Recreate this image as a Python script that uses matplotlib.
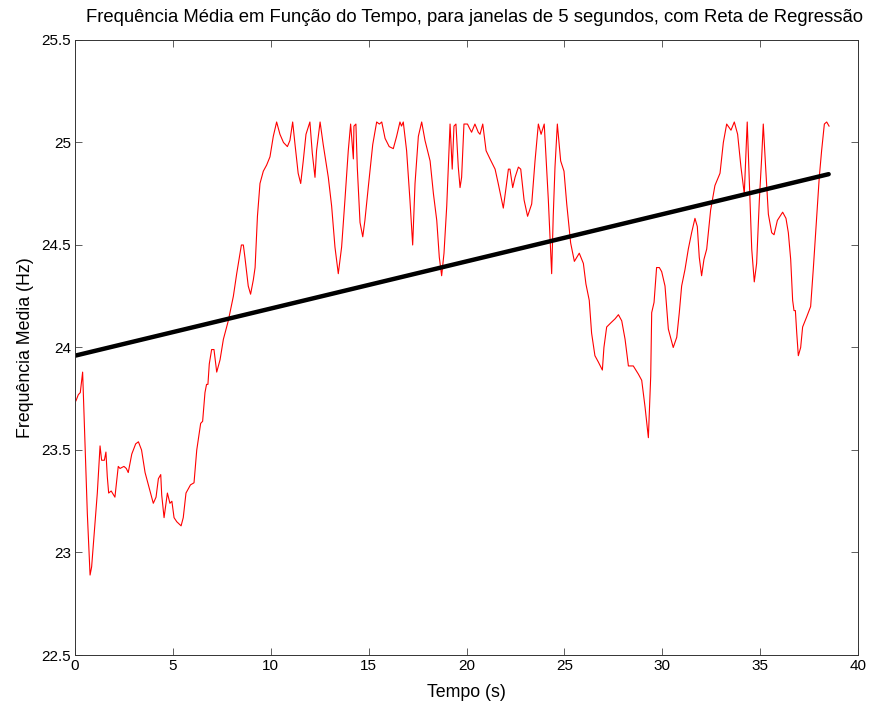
import numpy as np
import matplotlib
matplotlib.use("Agg")
import matplotlib.pyplot as plt
from matplotlib.ticker import FormatStrFormatter, MultipleLocator

plt.rcParams['font.family'] = ['Liberation Sans', 'DejaVu Sans']

# tempo (s) e frequencia media (Hz)
tempo = [0.05, 0.17, 0.27, 0.39, 0.46, 0.56, 0.63, 0.77, 0.85, 1.02, 1.14, 1.28, 1.36, 1.50,
         1.58, 1.65, 1.72, 1.85, 2.04, 2.21, 2.30, 2.50, 2.62, 2.72, 2.90, 3.10, 3.24, 3.40,
         3.58, 3.83, 4.00, 4.14, 4.26, 4.38, 4.43, 4.55, 4.72, 4.85, 4.95, 5.06, 5.20, 5.42,
         5.53, 5.67, 5.90, 6.08, 6.22, 6.42, 6.52, 6.64, 6.72, 6.79, 6.86, 6.98, 7.10, 7.24,
         7.41, 7.58, 7.83, 8.09, 8.26, 8.50, 8.60, 8.68, 8.85, 8.97, 9.11, 9.20, 9.32, 9.45,
         9.62, 9.79, 9.96, 10.13, 10.30, 10.47, 10.65, 10.85, 10.98, 11.12, 11.24, 11.40,
         11.53, 11.66, 11.80, 12.00, 12.12, 12.26, 12.34, 12.52, 12.68, 12.94, 13.11, 13.28,
         13.45, 13.62, 13.79, 13.96, 14.08, 14.22, 14.25, 14.35, 14.42, 14.56, 14.70, 14.81,
         14.98, 15.21, 15.41, 15.55, 15.67, 15.84, 16.05, 16.26, 16.43, 16.60, 16.68, 16.77,
         16.94, 17.11, 17.25, 17.37, 17.54, 17.71, 17.88, 18.14, 18.31, 18.48, 18.61, 18.73,
         18.85, 18.99, 19.16, 19.27, 19.36, 19.46, 19.58, 19.67, 19.75, 19.87, 20.05, 20.15,
         20.26, 20.43, 20.60, 20.69, 20.83, 21.00, 21.20, 21.46, 21.62, 21.88, 22.02, 22.14,
         22.22, 22.36, 22.48, 22.65, 22.77, 22.94, 23.12, 23.33, 23.50, 23.67, 23.81, 23.97,
         24.18, 24.35, 24.43, 24.52, 24.64, 24.81, 24.98, 25.12, 25.32, 25.51, 25.76, 25.97,
         26.10, 26.27, 26.39, 26.56, 26.73, 26.94, 27.02, 27.16, 27.37, 27.59, 27.76, 27.93,
         28.10, 28.27, 28.52, 28.78, 28.95, 29.12, 29.29, 29.41, 29.46, 29.58, 29.71, 29.85,
         29.97, 30.14, 30.31, 30.56, 30.74, 30.87, 30.99, 31.16, 31.33, 31.50, 31.67, 31.79,
         31.89, 32.01, 32.13, 32.27, 32.47, 32.69, 32.95, 33.12, 33.29, 33.51, 33.68, 33.85,
         34.02, 34.19, 34.26, 34.34, 34.45, 34.57, 34.70, 34.82, 34.96, 35.08, 35.16, 35.28,
         35.42, 35.59, 35.71, 35.88, 36.15, 36.32, 36.44, 36.56, 36.66, 36.73, 36.80, 36.87,
         36.95, 37.07, 37.17, 37.38, 37.58, 37.72, 37.89, 38.02, 38.14, 38.28, 38.40, 38.52]
freq = [23.74, 23.77, 23.78, 23.88, 23.68, 23.40, 23.19, 22.89, 22.93, 23.14, 23.29, 23.52, 23.45, 23.45,
        23.49, 23.37, 23.29, 23.30, 23.27, 23.42, 23.41, 23.42, 23.41, 23.39, 23.48, 23.53, 23.54, 23.50,
        23.39, 23.30, 23.24, 23.27, 23.36, 23.38, 23.28, 23.17, 23.29, 23.24, 23.25, 23.17, 23.15, 23.13,
        23.17, 23.29, 23.33, 23.34, 23.50, 23.63, 23.64, 23.78, 23.82, 23.82, 23.92, 23.99, 23.99, 23.88,
        23.94, 24.04, 24.13, 24.25, 24.36, 24.50, 24.50, 24.44, 24.30, 24.26, 24.33, 24.39, 24.64, 24.80,
        24.86, 24.89, 24.93, 25.03, 25.10, 25.04, 25.00, 24.98, 25.01, 25.10, 24.99, 24.85,
        24.80, 24.91, 25.04, 25.10, 24.95, 24.83, 24.96, 25.10, 24.99, 24.83, 24.69, 24.49,
        24.36, 24.49, 24.72, 24.96, 25.09, 24.92, 25.08, 25.09, 24.88, 24.61, 24.54, 24.62,
        24.78, 24.99, 25.10, 25.09, 25.10, 25.02, 24.98, 24.97, 25.03, 25.10, 25.08, 25.10,
        24.96, 24.72, 24.50, 24.80, 25.03, 25.10, 25.01, 24.91, 24.75, 24.62, 24.44, 24.35,
        24.46, 24.69, 25.09, 24.87, 25.08, 25.09, 24.88, 24.78, 24.83, 25.09, 25.09, 25.07,
        25.05, 25.09, 25.05, 25.04, 25.09, 24.96, 24.92, 24.87, 24.80, 24.68, 24.78, 24.87,
        24.87, 24.78, 24.83, 24.88, 24.87, 24.72, 24.64, 24.70, 24.91, 25.09, 25.04, 25.09,
        24.72, 24.36, 24.64, 24.88, 25.09, 24.91, 24.86, 24.70, 24.51, 24.42, 24.46, 24.41,
        24.31, 24.23, 24.07, 23.96, 23.93, 23.89, 24.00, 24.10, 24.12, 24.14, 24.16, 24.13,
        24.04, 23.91, 23.91, 23.87, 23.84, 23.71, 23.56, 23.86, 24.17, 24.22, 24.39, 24.39,
        24.37, 24.30, 24.09, 24.00, 24.05, 24.17, 24.30, 24.38, 24.48, 24.56, 24.63, 24.59,
        24.44, 24.35, 24.43, 24.48, 24.67, 24.79, 24.85, 25.00, 25.09, 25.06, 25.10, 25.04,
        24.88, 24.75, 24.91, 25.10, 24.80, 24.48, 24.32, 24.41, 24.72, 24.93, 25.09, 24.88,
        24.65, 24.56, 24.55, 24.62, 24.66, 24.63, 24.56, 24.43, 24.23, 24.18, 24.18, 24.07,
        23.96, 24.00, 24.10, 24.15, 24.20, 24.39, 24.64, 24.83, 24.96, 25.09, 25.10, 25.08]

# reta de regressao: coeficientes
intercepto = 23.96
inclinacao = 0.0230
t_reta = [0.0, 38.5]

fig = plt.figure(figsize=(8.71, 7.04), dpi=100)
ax = fig.add_axes([0.0861, 0.0696, 0.8990, 0.8736])

ax.plot(tempo, freq, color="red", linewidth=0.8)
reta = [intercepto + inclinacao * t for t in t_reta]
ax.plot(t_reta, reta, color="black", linewidth=3.2, solid_capstyle="round")

ax.set_xlim(0, 40)
ax.set_ylim(22.5, 25.5)
ax.xaxis.set_major_locator(MultipleLocator(5))
ax.yaxis.set_major_locator(MultipleLocator(0.5))
ax.yaxis.set_major_formatter(FormatStrFormatter("%g"))
ax.tick_params(direction="in", length=5, width=0.6, top=True, right=True,
               labelsize=11, color="#444444", pad=3)
for s in ax.spines.values():
    s.set_linewidth(0.7)
    s.set_color("#333333")

ax.set_title("Frequência Média em Função do Tempo, para janelas de 5 segundos, com Reta de Regressão",
             fontsize=13.3, pad=13, x=0.51)
ax.set_xlabel("Tempo (s)", fontsize=12.8, labelpad=8)
ax.set_ylabel("Frequência Media (Hz)", fontsize=12.8, labelpad=5)

fig.savefig("out.png", dpi=100)
